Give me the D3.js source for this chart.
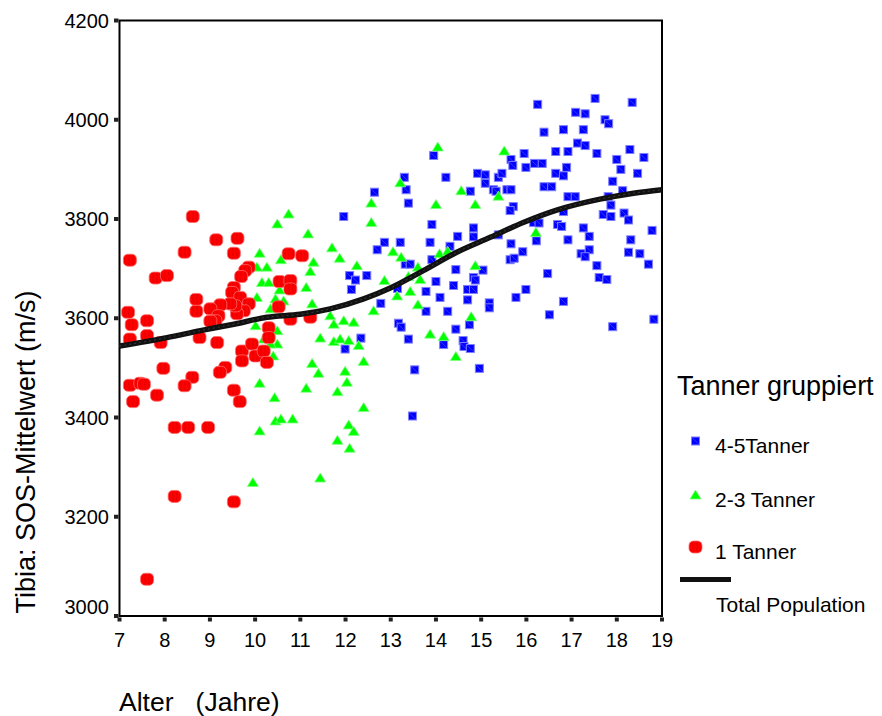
<!DOCTYPE html>
<html>
<head>
<meta charset="utf-8">
<script src="https://cdn.jsdelivr.net/npm/d3@7"></script>
<style>
  body { margin: 0; background: #fff; }
  svg { display: block; font-family: "Liberation Sans", Arial, sans-serif; }
</style>
</head>
<body>
<svg id="chart" width="882" height="716"></svg>
<script>
// ages (Jahre) and tibia SOS mean (m/s)
const tanner1 = [
  [8.62,3805],[7.23,3717],[9.14,3758],[9.61,3761],[8.44,3733],[9.53,3731],[9.86,3703],[9.78,3696],
  [9.69,3684],[10.74,3730],[11.04,3726],[7.80,3681],[8.05,3686],[10.54,3674],[10.78,3676],[10.78,3659],
  [8.70,3638],[8.70,3614],[9.53,3662],[9.49,3652],[9.67,3642],[9.86,3629],[9.75,3615],[9.60,3609],
  [9.56,3625],[9.45,3629],[9.23,3627],[9.01,3619],[9.19,3605],[9.12,3595],[9.01,3594],[10.52,3623],
  [10.78,3598],[11.22,3602],[7.19,3612],[7.27,3587],[7.61,3595],[7.23,3558],[7.61,3565],[7.91,3551],
  [8.77,3561],[9.16,3551],[10.30,3581],[10.30,3561],[9.71,3534],[9.71,3514],[9.93,3548],[10.01,3524],
  [10.19,3534],[10.26,3511],[7.97,3499],[9.34,3501],[9.22,3491],[8.61,3481],[8.44,3464],[7.23,3465],
  [7.46,3469],[7.54,3467],[7.30,3432],[7.83,3445],[9.53,3455],[9.66,3432],[8.22,3380],[8.52,3380],
  [8.96,3380],[8.22,3241],[9.53,3230],[7.61,3074]
];

const tanner23 = [
  [10.74,3810],[10.49,3790],[11.17,3770],[11.70,3742],[11.87,3721],[10.10,3731],[10.57,3718],[10.04,3703],
  [10.26,3703],[11.29,3713],[11.22,3694],[10.15,3672],[10.30,3672],[11.13,3662],[10.54,3657],[10.04,3642],
  [10.45,3639],[10.63,3635],[10.34,3619],[11.26,3629],[12.25,3706],[12.57,3832],[12.57,3793],[13.05,3734],
  [13.23,3723],[12.86,3676],[13.14,3645],[12.62,3615],[10.01,3585],[10.49,3575],[11.66,3605],[11.74,3588],
  [11.96,3595],[12.18,3592],[10.19,3558],[10.49,3548],[10.34,3548],[11.44,3560],[11.74,3553],[11.88,3558],
  [12.07,3555],[12.29,3545],[10.40,3524],[11.26,3509],[11.40,3489],[11.99,3493],[12.03,3471],[12.40,3513],
  [10.10,3469],[11.13,3459],[11.82,3452],[10.43,3440],[12.40,3420],[10.45,3393],[10.57,3397],[10.83,3397],
  [10.10,3373],[12.07,3385],[12.18,3372],[11.82,3354],[12.09,3338],[9.95,3269],[11.44,3278],[14.04,3945],
  [15.51,3937],[13.21,3873],[14.56,3857],[15.38,3846],[14.00,3829],[14.87,3829],[16.21,3773],[14.08,3730],
  [14.26,3735],[13.60,3703],[14.87,3706],[13.39,3684],[13.65,3678],[13.43,3654],[13.60,3627],[14.78,3603],
  [13.87,3568],[14.17,3563],[14.44,3523]
];

const tanner45 = [
  [11.96,3805],[12.64,3854],[12.86,3753],[12.70,3738],[12.09,3686],[12.22,3677],[12.47,3686],[12.13,3658],
  [12.78,3630],[12.34,3560],[11.99,3538],[13.95,3928],[13.30,3884],[14.22,3884],[14.92,3892],[15.09,3889],
  [15.09,3872],[15.38,3884],[15.27,3859],[15.33,3856],[13.34,3859],[14.76,3856],[13.39,3832],[13.91,3789],
  [14.83,3782],[14.83,3764],[14.48,3765],[15.38,3768],[13.21,3753],[13.87,3753],[14.31,3745],[13.91,3718],
  [13.32,3709],[13.43,3709],[14.44,3698],[15.04,3697],[14.83,3682],[14.87,3677],[14.00,3674],[14.39,3666],
  [13.15,3660],[13.78,3654],[14.70,3658],[14.83,3658],[14.09,3642],[14.70,3637],[15.18,3631],[15.18,3621],
  [13.78,3614],[14.26,3614],[13.17,3590],[13.23,3582],[13.39,3558],[14.44,3578],[14.74,3587],[14.60,3555],
  [14.62,3543],[14.76,3539],[14.17,3547],[13.53,3496],[14.96,3499],[13.48,3403],
  [16.25,4031],[17.52,4043],[18.34,4035],[17.09,4015],[17.30,4012],[17.74,4000],[17.82,3992],[16.39,3975],
  [16.82,3980],[17.26,3980],[17.13,3953],[17.30,3948],[15.95,3932],[16.65,3936],[16.92,3936],[17.56,3932],
  [18.29,3940],[18.60,3924],[18.00,3920],[15.66,3920],[15.70,3908],[15.99,3904],[16.18,3912],[16.35,3912],
  [16.65,3892],[16.89,3904],[16.82,3887],[18.09,3900],[18.46,3892],[15.46,3892],[17.91,3876],[16.39,3865],
  [16.56,3865],[15.57,3859],[15.66,3859],[18.13,3857],[16.92,3845],[17.08,3845],[17.81,3845],[17.87,3828],
  [15.71,3825],[15.64,3817],[16.82,3815],[17.70,3809],[17.87,3805],[18.16,3812],[18.26,3798],[18.78,3777],
  [16.16,3793],[16.28,3792],[16.69,3789],[16.78,3785],[17.26,3782],[17.39,3765],[16.22,3756],[16.92,3758],
  [18.31,3758],[15.66,3750],[15.92,3734],[15.64,3718],[15.73,3721],[17.21,3730],[17.39,3738],[17.30,3724],
  [18.26,3733],[18.51,3730],[18.70,3709],[17.56,3706],[16.47,3690],[17.61,3682],[17.78,3678],[15.99,3658],
  [15.77,3642],[16.82,3634],[16.51,3607],[17.91,3583],[18.82,3598]
];

const totalPopulation = [
  [7.00,3544],[8.05,3561],[8.79,3575],[9.53,3588],[10.26,3602],[11.00,3608],[11.66,3619],[12.40,3639],
  [12.99,3661],[13.72,3696],[14.46,3733],[15.20,3763],[15.93,3793],[16.67,3818],[17.63,3840],[18.37,3852],
  [19.00,3859]
];

const xTicks = [7, 8, 9, 10, 11, 12, 13, 14, 15, 16, 17, 18, 19];
const yTicks = [3000, 3200, 3400, 3600, 3800, 4000, 4200];

const legendTitle = 'Tanner gruppiert';
const legendLabels = ['4-5Tanner', '2-3 Tanner', '1 Tanner', 'Total Population'];

const svg = d3.select('#chart');

const x = d3.scaleLinear().domain([7, 19]).range([119.5, 662]);
const y = d3.scaleLinear().domain([3000, 4200]).range([616, 20.5]);

// texture for the red blobs
const defs = svg.append('defs');
const pat = defs.append('pattern')
  .attr('id', 'redTex')
  .attr('width', 4).attr('height', 5)
  .attr('patternUnits', 'userSpaceOnUse');
pat.append('rect').attr('width', 4).attr('height', 5).attr('fill', '#ff0000');
pat.append('path')
  .attr('d', 'M1,0 Q2,1.5 1,2.5 Q0,3.5 1,5')
  .attr('fill', 'none')
  .attr('stroke', '#d20000')
  .attr('stroke-width', 0.7);

// frame
svg.append('rect')
  .attr('x', x(7)).attr('y', y(4200))
  .attr('width', x(19) - x(7)).attr('height', y(3000) - y(4200))
  .attr('fill', 'none')
  .attr('stroke', '#000')
  .attr('stroke-width', 2);

// ticks: small squares outside the axes
svg.append('g').selectAll('rect')
  .data(yTicks)
  .join('rect')
  .attr('x', x(7) - 5.5).attr('y', d => y(d) - 2)
  .attr('width', 4.5).attr('height', 4)
  .attr('fill', '#222');

svg.append('g').selectAll('rect')
  .data(xTicks)
  .join('rect')
  .attr('x', d => x(d) - 2).attr('y', y(3000) + 1.5)
  .attr('width', 4).attr('height', 4)
  .attr('fill', '#222');

svg.append('g')
  .attr('font-size', 20)
  .attr('text-anchor', 'end')
  .selectAll('text')
  .data(yTicks)
  .join('text')
  .attr('x', 109)
  .attr('y', d => y(d) + 7 - (d === 3000 ? 9 : 0))
  .text(d => d);

svg.append('g')
  .attr('font-size', 20)
  .attr('text-anchor', 'middle')
  .selectAll('text')
  .data(xTicks)
  .join('text')
  .attr('x', d => x(d))
  .attr('y', 647)
  .text(d => d);

// axis titles
svg.append('text')
  .attr('transform', 'translate(35,452) rotate(-90)')
  .attr('text-anchor', 'middle')
  .attr('font-size', 27)
  .text('Tibia: SOS-Mittelwert (m/s)');

svg.append('text')
  .attr('x', 119).attr('y', 711)
  .attr('font-size', 26.5)
  .style('white-space', 'pre')
  .text('Alter   (Jahre)');

// marker painters
function blueSquare(g, cx, cy) {
  g.append('rect')
    .attr('x', cx - 4).attr('y', cy - 4)
    .attr('width', 8).attr('height', 8)
    .attr('fill', '#0000ff')
    .attr('stroke', '#7f7fff')
    .attr('stroke-width', 1);
  g.append('line')
    .attr('x1', cx - 3).attr('y1', cy - 3)
    .attr('x2', cx + 3).attr('y2', cy + 3)
    .attr('stroke', '#5a5aff')
    .attr('stroke-width', 0.6);
}
function greenTriangle(g, cx, cy) {
  g.append('path')
    .attr('d', `M${cx},${cy - 5}L${cx + 5.5},${cy + 4}L${cx - 5.5},${cy + 4}Z`)
    .attr('fill', '#00ff00')
    .attr('stroke', '#7fff7f')
    .attr('stroke-width', 0.8);
}
function redBlob(g, cx, cy) {
  g.append('rect')
    .attr('x', cx - 6.5).attr('y', cy - 6)
    .attr('width', 13).attr('height', 12)
    .attr('rx', 4.5).attr('ry', 4.5)
    .attr('fill', 'url(#redTex)')
    .attr('stroke', '#ff6a6a')
    .attr('stroke-width', 0.8);
}

const gBlue = svg.append('g');
tanner45.forEach(d => blueSquare(gBlue, x(d[0]), y(d[1])));
const gGreen = svg.append('g');
tanner23.forEach(d => greenTriangle(gGreen, x(d[0]), y(d[1])));
const gRed = svg.append('g');
tanner1.forEach(d => redBlob(gRed, x(d[0]), y(d[1])));

// total population curve
const line = d3.line()
  .x(d => x(d[0]))
  .y(d => y(d[1]))
  .curve(d3.curveMonotoneX);

svg.append('path')
  .datum(totalPopulation)
  .attr('d', line)
  .attr('fill', 'none')
  .attr('stroke', '#111')
  .attr('stroke-width', 5.5)
  .attr('stroke-linecap', 'butt');
svg.append('path')
  .datum(totalPopulation)
  .attr('d', line)
  .attr('fill', 'none')
  .attr('stroke', '#3a3a3a')
  .attr('stroke-width', 1)
  .attr('stroke-dasharray', '2,3');

// legend
const lg = svg.append('g');
lg.append('text')
  .attr('x', 677).attr('y', 395)
  .attr('font-size', 27)
  .text(legendTitle);

blueSquare(lg, 695.5, 441);
greenTriangle(lg, 695.5, 495);
redBlob(lg, 695.5, 547);
lg.append('line')
  .attr('x1', 680).attr('x2', 731)
  .attr('y1', 579.5).attr('y2', 579.5)
  .attr('stroke', '#111')
  .attr('stroke-width', 5);

const labelY = [453, 506.5, 559, 612];
lg.selectAll('text.item')
  .data(legendLabels)
  .join('text')
  .attr('class', 'item')
  .attr('x', (d, i) => i === 3 ? 716 : 715)
  .attr('y', (d, i) => labelY[i])
  .attr('font-size', 21)
  .text(d => d);
</script>
</body>
</html>
